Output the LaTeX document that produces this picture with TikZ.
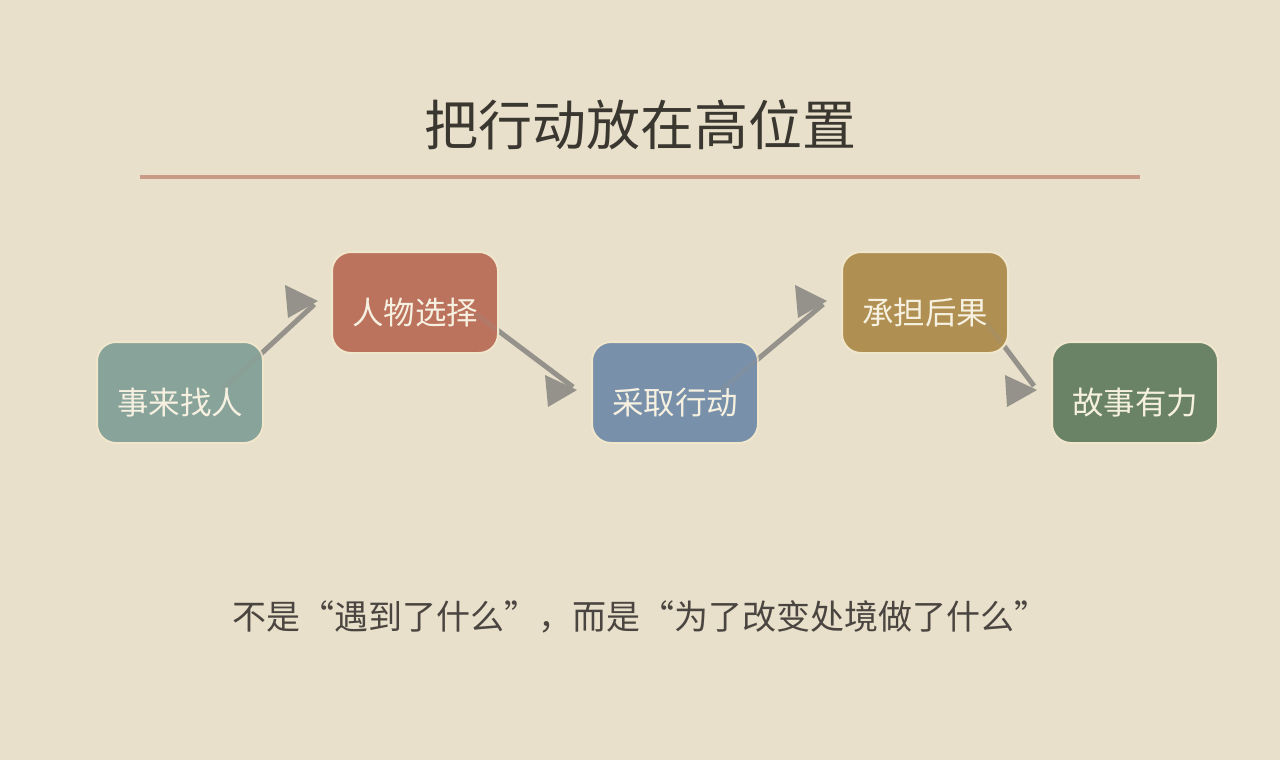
\documentclass[tikz,border=0pt]{standalone}
\usepackage{fontspec}
\usetikzlibrary{calc}
\newfontfamily\cjk{Noto Sans CJK SC}
\definecolor{bgc}{HTML}{E8E0CA}
\definecolor{titlec}{HTML}{3A3630}
\definecolor{rulec}{HTML}{C99A86}
\definecolor{boxline}{HTML}{EFE6CC}
\definecolor{boxtext}{HTML}{F6F0E0}
\definecolor{c1}{HTML}{88A39A}
\definecolor{c2}{HTML}{BB735E}
\definecolor{c3}{HTML}{7890AA}
\definecolor{c4}{HTML}{B08F52}
\definecolor{c5}{HTML}{6A8366}
\definecolor{arrc}{HTML}{94928A}
\definecolor{subc}{HTML}{4A4540}
\begin{document}
\begin{tikzpicture}[x=1pt,y=-1pt,
  stepbox/.style={draw=boxline, line width=2pt, rounded corners=19pt,
    minimum width=166pt, minimum height=101pt, inner sep=0pt},
  boxlabel/.style={text=boxtext, font=\cjk\fontsize{31.5}{36}\selectfont, inner sep=0pt},
  arrowline/.style={draw=arrc, line width=5pt, shorten >=5pt},
  arrowhead/.style={fill=arrc},
  faint/.style={draw=arrc, line width=5pt, opacity=0.22},
]
\fill[bgc] (0,0) rectangle (1280,760);
\useasboundingbox (0,0) rectangle (1280,760);

\node[text=titlec, font=\cjk\fontsize{54}{60}\selectfont, inner sep=0pt] (title) at (640,125) {把行动放在高位置};
\draw[rulec, line width=4pt] (140,177) -- (1140,177);

% arrow coordinates
\coordinate (a1s) at (223,389);
\coordinate (a1t) at (318,301);
\coordinate (a2s) at (476,314);
\coordinate (a2t) at (577,390);
\coordinate (a3s) at (720,391);
\coordinate (a3t) at (827,301);
\coordinate (a4s) at (986,322);
\coordinate (a4t) at (1037,390);

\draw[arrowline] (a1s) -- (a1t);
\draw[arrowline] (a2s) -- (a2t);
\draw[arrowline] (a3s) -- (a3t);
\draw[arrowline] (a4s) -- (a4t);

\node[stepbox, fill=c1] (b1) at (180,392.5) {};
\node[stepbox, fill=c2] (b2) at (415,302.5) {};
\node[stepbox, fill=c3] (b3) at (675,392.5) {};
\node[stepbox, fill=c4] (b4) at (925,302.5) {};
\node[stepbox, fill=c5] (b5) at (1135,392.5) {};

\draw[faint] (a1s) -- ($(a1s)!0.45!(a1t)$);
\draw[faint] (a2s) -- ($(a2s)!0.2!(a2t)$);
\draw[faint] (a3s) -- ($(a3s)!0.4!(a3t)$);
\draw[faint] (a4s) -- ($(a4s)!0.3!(a4t)$);

\fill[arrowhead] (a1t) -- ++(-33,-16) -- ++(3,33) -- cycle;
\fill[arrowhead] (a2t) -- ++(-32,-15) -- ++(3,32) -- cycle;
\fill[arrowhead] (a3t) -- ++(-32,-16) -- ++(3,33) -- cycle;
\fill[arrowhead] (a4t) -- ++(-32,-15) -- ++(2,32) -- cycle;

\node[boxlabel] (t1) at ([yshift=-10pt]b1.center) {事来找人};
\node[boxlabel] (t2) at ([yshift=-10pt]b2.center) {人物选择};
\node[boxlabel] (t3) at ([yshift=-10pt]b3.center) {采取行动};
\node[boxlabel] (t4) at ([yshift=-10pt]b4.center) {承担后果};
\node[boxlabel] (t5) at ([yshift=-10pt]b5.center) {故事有力};

\node[text=subc, font=\cjk\fontsize{34}{40}\selectfont, inner sep=0pt] (sub) at (640,617) {不是“遇到了什么”，而是“为了改变处境做了什么”};
\end{tikzpicture}
\end{document}
